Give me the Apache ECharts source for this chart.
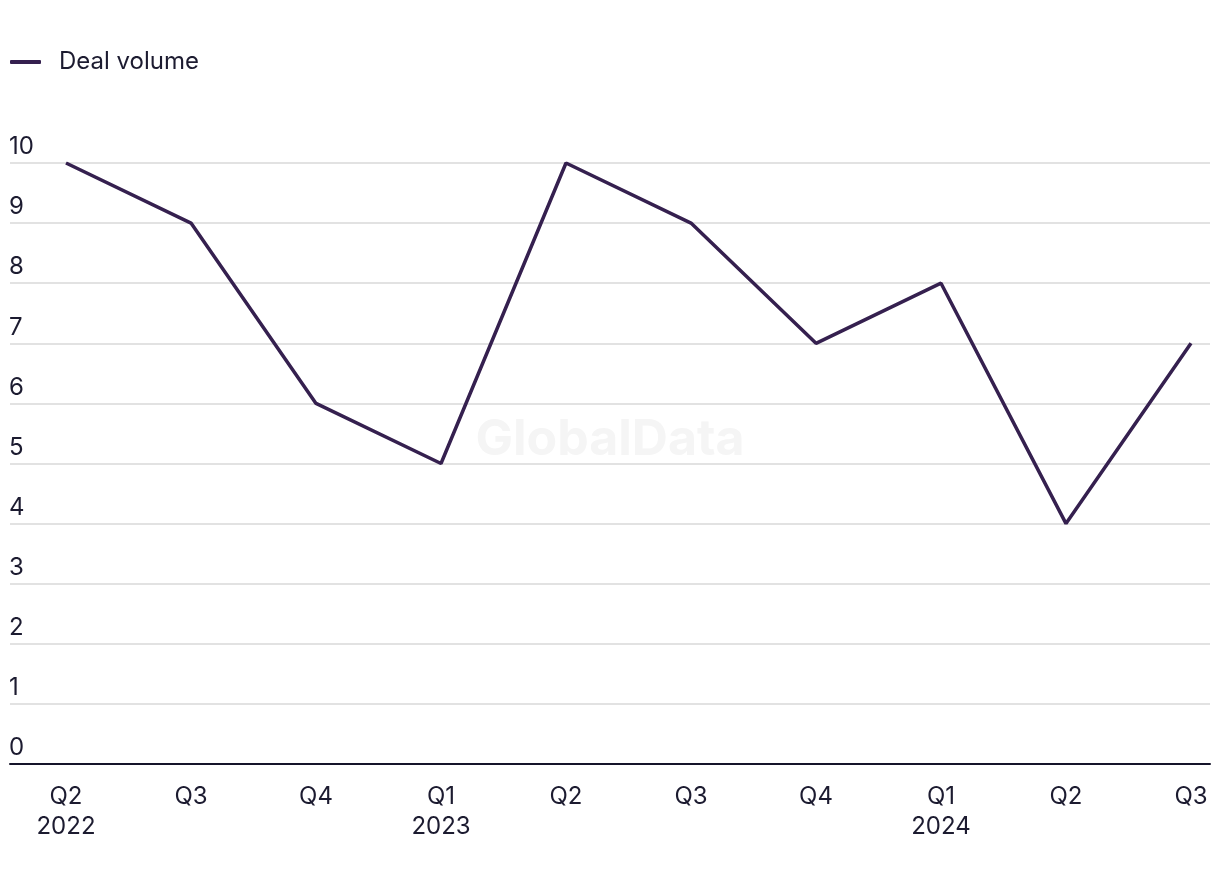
<!DOCTYPE html>
<html>
<head>
<meta charset="utf-8">
<style>
html,body{margin:0;padding:0;background:#fff;}
#chart{width:1220px;height:884px;}
</style>
<script src="https://cdn.jsdelivr.net/npm/echarts@6/dist/echarts.min.js"></script>
</head>
<body>
<div id="chart"></div>
<script>
const categories = ["Q2\n2022","Q3","Q4","Q1\n2023","Q2","Q3","Q4","Q1\n2024","Q2","Q3"];
const dealVolume = [10, 9, 6, 5, 10, 9, 7, 8, 4, 7];
const yMin = 0, yMax = 10, yInterval = 1;
const seriesName = "Deal volume";

const FONT = "Inter, 'Noto Sans', sans-serif";
const TEXT = "#1c1b30";
const LINE = "#35204f";
const FS = 24;

const chart = echarts.init(document.getElementById('chart'), null, {renderer: 'canvas'});
chart.setOption({
  backgroundColor: '#fff',
  animation: false,
  textStyle: {fontFamily: FONT},
  graphic: [{
    type: 'text', left: 'center', top: 415, z: 0,
    style: {text: 'GlobalData', font: "bold 50px " + FONT, fill: '#f5f5f5'}
  }],
  legend: {
    left: 10, top: 50, padding: 0,
    icon: 'roundRect', itemWidth: 31, itemHeight: 4,
    textStyle: {fontSize: FS, color: TEXT, fontFamily: FONT, padding: [0,0,0,13]},
    data: [seriesName]
  },
  grid: [
    {left: 10, right: 10, top: 163, bottom: 120, containLabel: false},
    {left: 66, right: 29, top: 163, bottom: 120, containLabel: false}
  ],
  xAxis: [
    {gridIndex: 0, type: 'value', min: 0, max: 1,
     axisLine: {show: true, onZero: false, lineStyle: {color: '#15142a', width: 2}},
     axisTick: {show: false}, axisLabel: {show: false}, splitLine: {show: false}},
    {gridIndex: 1, type: 'category', boundaryGap: false, data: categories,
     axisLine: {show: false}, axisTick: {show: false}, splitLine: {show: false},
     axisLabel: {fontSize: FS, lineHeight: 30, color: TEXT, fontFamily: FONT, margin: 18, interval: 0}}
  ],
  yAxis: [
    {gridIndex: 0, type: 'value', min: yMin, max: yMax, interval: yInterval,
     axisLine: {show: false}, axisTick: {show: false},
     splitLine: {show: true, lineStyle: {color: '#d9d9d9', width: 1.5}},
     axisLabel: {inside: true, margin: -1, align: 'left', verticalAlign: 'bottom',
       padding: [0,0,4,0], fontSize: FS, color: TEXT, fontFamily: FONT}},
    {gridIndex: 1, type: 'value', min: yMin, max: yMax, interval: yInterval, show: false,
     splitLine: {show: false}}
  ],
  series: [{
    name: seriesName, type: 'line', xAxisIndex: 1, yAxisIndex: 1,
    data: dealVolume, symbol: 'none', color: LINE,
    lineStyle: {color: LINE, width: 3.5}, z: 5
  }]
});
</script>
</body>
</html>
